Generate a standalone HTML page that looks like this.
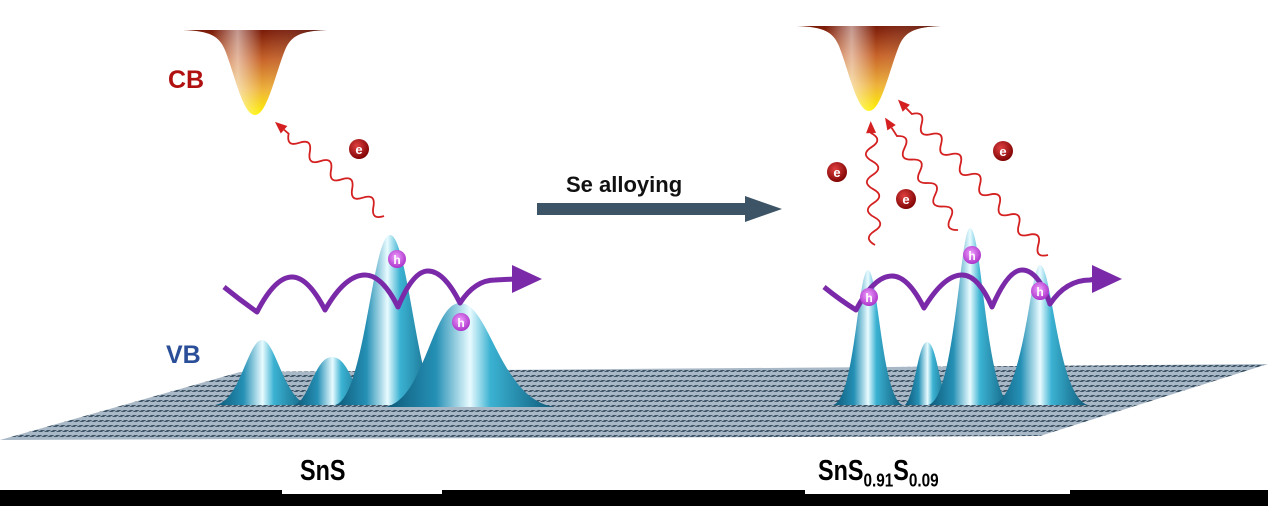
<!DOCTYPE html>
<html><head><meta charset="utf-8"><style>
html,body{margin:0;padding:0;background:#fff;}
svg{display:block;}
text{font-family:"Liberation Sans",sans-serif;font-weight:bold;}
</style></head><body>
<svg width="1268" height="506" viewBox="0 0 1268 506" xmlns="http://www.w3.org/2000/svg">
<defs>
<pattern id="grid" width="6" height="5" patternUnits="userSpaceOnUse" patternTransform="skewX(-60)">
<rect width="6" height="5" fill="#a9b8c6"/>
<rect x="0" y="0" width="4" height="2" fill="#3e5567"/>
</pattern>
<linearGradient id="peak" x1="0" x2="1" y1="0" y2="0">
<stop offset="0" stop-color="#0d5878"/>
<stop offset="0.3" stop-color="#2590b5"/>
<stop offset="0.5" stop-color="#e8fbff"/>
<stop offset="0.62" stop-color="#3bb2d2"/>
<stop offset="1" stop-color="#0d5878"/>
</linearGradient>
<linearGradient id="fun" x1="0" x2="0" y1="0" y2="1">
<stop offset="0" stop-color="#7a1a08"/>
<stop offset="0.35" stop-color="#c8642a"/>
<stop offset="0.7" stop-color="#eeb23a"/>
<stop offset="1" stop-color="#fff200"/>
</linearGradient>
<linearGradient id="funh" x1="0" x2="1" y1="0" y2="0">
<stop offset="0.2" stop-color="#fff" stop-opacity="0"/>
<stop offset="0.38" stop-color="#fff" stop-opacity="0.55"/>
<stop offset="0.55" stop-color="#fff" stop-opacity="0"/>
<stop offset="1" stop-color="#000" stop-opacity="0.3"/>
</linearGradient>
<radialGradient id="eg" cx="0.4" cy="0.35" r="0.7">
<stop offset="0" stop-color="#e04040"/><stop offset="1" stop-color="#7a0000"/>
</radialGradient>
<radialGradient id="hg" cx="0.45" cy="0.4" r="0.7">
<stop offset="0" stop-color="#f0a0ff"/><stop offset="1" stop-color="#a020c0"/>
</radialGradient>
<symbol id="funnel" overflow="visible">
<path d="M-72,0 C-45,1 -36,6 -30,20 C-20,45 -12,85 0,85 C12,85 20,45 30,20 C36,6 45,1 72,0 Z" fill="url(#fun)"/>
<path d="M-72,0 C-45,1 -36,6 -30,20 C-20,45 -12,85 0,85 C12,85 20,45 30,20 C36,6 45,1 72,0 Z" fill="url(#funh)"/>
</symbol>
</defs>

<polygon points="0,440 240,372 1268,364 1040,436" fill="url(#grid)"/>

<use href="#funnel" x="255" y="30"/>
<use href="#funnel" x="869" y="26"/>

<g fill="url(#peak)">
<path d="M215,405 C240,402 248,340 262,340 C276,340 284,402 310,405 Z"/>
<path d="M295,405 C310,398 315,357 332,357 C350,357 355,398 370,405 Z"/>
<path d="M335,405 C365,398 372,235 390,235 C408,235 418,398 440,405 Z"/>
<path d="M385,407 C425,400 432,303 460,303 C490,303 500,400 555,407 Z"/>
</g>
<g fill="url(#peak)">
<path d="M833,405 C855,400 858,270 868,270 C878,270 882,400 903,405 Z"/>
<path d="M905,405 C915,395 918,342 927,342 C937,342 940,395 950,405 Z"/>
<path d="M928,405 C955,400 960,228 970,228 C982,228 986,400 1012,405 Z"/>
<path d="M992,405 C1025,398 1030,265 1040,265 C1052,265 1058,398 1088,405 Z"/>
</g>

<g fill="none" stroke="#d42020" stroke-width="1.8">
<g transform="translate(384,216) rotate(220.8)">
<path d="M0,0 q7,-12 14,0 t14,0 t14,0 t14,0 t14,0 t14,0 t14,0 t14,0 t14,0 l6,0"/>
<polygon points="144,0 132,-5 132,5" fill="#d42020" stroke="none"/>
</g>
<g transform="translate(875,245) rotate(-92)">
<path d="M0,0 q7,-12 14,0 t14,0 t14,0 t14,0 t14,0 t14,0 t14,0 t14,0 l2,0"/>
<polygon points="124,0 112,-5 112,5" fill="#d42020" stroke="none"/>
</g>
<g transform="translate(958,230) rotate(-123)">
<path d="M0,0 q7,-12 14,0 t14,0 t14,0 t14,0 t14,0 t14,0 t14,0 t14,0 l10,0"/>
<polygon points="134,0 122,-5 122,5" fill="#d42020" stroke="none"/>
</g>
<g transform="translate(1048,255) rotate(-134)">
<path d="M0,0 q7,-12 14,0 t14,0 t14,0 t14,0 t14,0 t14,0 t14,0 t14,0 t14,0 t14,0 t14,0 t14,0 t14,0 t14,0 l8,0"/>
<polygon points="216,0 204,-5 204,5" fill="#d42020" stroke="none"/>
</g>
</g>

<g fill="none" stroke="#7a2aa8" stroke-width="5" stroke-linejoin="round">
<path d="M224,287 Q240,300 257,312 Q275,277 292,277 Q308,277 325,310 Q345,275 365,275 Q382,275 398,307 Q413,271 428,271 Q444,271 460,303 Q475,280 495,280 L515,279"/>
<path d="M824,287 Q840,300 856,310 Q874,276 892,276 Q908,276 924,308 Q944,275 962,275 Q978,275 992,307 Q1008,270 1022,270 Q1038,270 1050,304 Q1066,280 1090,280 L1095,279"/>
</g>
<polygon points="512,265 542,279 512,293" fill="#7a2aa8"/>
<polygon points="1092,265 1122,279 1092,293" fill="#7a2aa8"/>

<g font-size="13" fill="#fff" text-anchor="middle">
<circle cx="359" cy="149" r="10" fill="url(#eg)"/><text x="359" y="154">e</text>
<circle cx="837" cy="172" r="10" fill="url(#eg)"/><text x="837" y="177">e</text>
<circle cx="906" cy="199" r="10" fill="url(#eg)"/><text x="906" y="204">e</text>
<circle cx="1003" cy="151" r="10" fill="url(#eg)"/><text x="1003" y="156">e</text>
</g>
<g font-size="12" fill="#fff" text-anchor="middle">
<circle cx="397" cy="259" r="9" fill="url(#hg)"/><text x="397" y="264">h</text>
<circle cx="461" cy="322" r="9" fill="url(#hg)"/><text x="461" y="327">h</text>
<circle cx="869" cy="297" r="9" fill="url(#hg)"/><text x="869" y="302">h</text>
<circle cx="972" cy="255" r="9" fill="url(#hg)"/><text x="972" y="260">h</text>
<circle cx="1040" cy="291" r="9" fill="url(#hg)"/><text x="1040" y="296">h</text>
</g>

<text x="168" y="88" font-size="25" fill="#b01010">CB</text>
<text x="166" y="363" font-size="25" fill="#2a4e98">VB</text>
<text x="566" y="192" font-size="22" fill="#111">Se alloying</text>
<polygon points="537,203 745,203 745,196 782,209 745,222 745,215 537,215" fill="#3d5466"/>

<rect x="0" y="490" width="1268" height="16" fill="#000"/>
<rect x="282" y="490" width="160" height="4" fill="#fff"/>
<rect x="805" y="490" width="265" height="4" fill="#fff"/>
<text x="300" y="480" font-size="26" fill="#000" transform="translate(300,480) scale(0.9,1.1) translate(-300,-480)">SnS</text>
<text x="818" y="480" font-size="26" fill="#000" transform="translate(818,480) scale(0.9,1.1) translate(-818,-480)">SnS<tspan font-size="17" dy="6">0.91</tspan><tspan dy="-6">S</tspan><tspan font-size="17" dy="6">0.09</tspan></text>
</svg>
</body></html>
